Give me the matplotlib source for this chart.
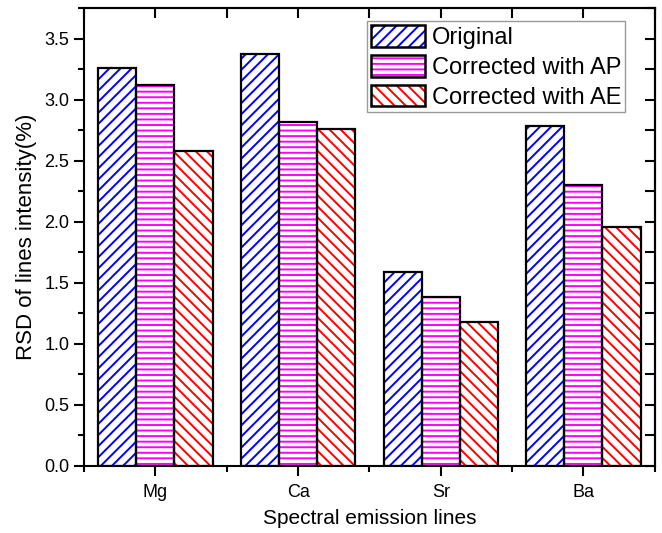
import matplotlib
matplotlib.use("Agg")
import matplotlib.pyplot as plt
import numpy as np
from matplotlib.ticker import MultipleLocator, FixedLocator, FormatStrFormatter
from matplotlib.patches import Patch, Rectangle
from matplotlib.legend_handler import HandlerPatch

plt.rcParams['font.family'] = ['Liberation Sans', 'DejaVu Sans']
plt.rcParams['hatch.linewidth'] = 1.4

categories = ["Mg", "Ca", "Sr", "Ba"]
series_names = ["Original", "Corrected with AP", "Corrected with AE"]
original = [3.26, 3.37, 1.59, 2.78]
corrected_ap = [3.12, 2.82, 1.38, 2.30]
corrected_ae = [2.58, 2.76, 1.18, 1.96]

colors = ["#0000FF", "#FF00FF", "#FF0000"]
hatches = ["///", "---", "\\\\\\"]

fig = plt.figure(figsize=(6.62, 5.33), dpi=100)
ax = fig.add_axes([0.127, 0.126, 0.862, 0.859])

x = np.arange(1, len(categories) + 1)
w = 0.267
for i, (vals, name) in enumerate(zip([original, corrected_ap, corrected_ae], series_names)):
    ax.bar(x + (i - 1) * w, vals, width=w, facecolor="white", edgecolor=colors[i],
           hatch=hatches[i], linewidth=0, label=name, zorder=2)
    ax.bar(x + (i - 1) * w, vals, width=w, facecolor="none", edgecolor="black",
           linewidth=1.6, zorder=3)

ax.set_xlim(0.5, 4.5)
ax.set_ylim(0, 3.75)
ax.set_xticks(x)
ax.set_xticklabels(categories)
ax.xaxis.set_minor_locator(FixedLocator([0.5, 1.5, 2.5, 3.5, 4.5]))
ax.yaxis.set_major_locator(MultipleLocator(0.5))
ax.yaxis.set_minor_locator(MultipleLocator(0.25))
ax.yaxis.set_major_formatter(FormatStrFormatter('%.1f'))
ax.tick_params(which='major', direction='out', length=7, width=1.5, labelsize=13)
ax.tick_params(which='minor', direction='out', length=4, width=1.5)
ax.tick_params(axis='x', which='major', pad=6)

for s in ax.spines.values():
    s.set_linewidth(1.5)

# top and right inward ticks
secx = ax.secondary_xaxis('top')
secx.set_xticks(x)
secx.xaxis.set_minor_locator(FixedLocator([0.5, 1.5, 2.5, 3.5, 4.5]))
secx.tick_params(which='both', direction='in', length=7, width=1.5, labeltop=False)
secx.spines['top'].set_linewidth(1.5)
secy = ax.secondary_yaxis('right')
secy.yaxis.set_major_locator(MultipleLocator(0.5))
secy.yaxis.set_minor_locator(MultipleLocator(0.25))
secy.tick_params(which='both', direction='in', length=7, width=1.5, labelright=False)
secy.spines['right'].set_linewidth(1.5)

ax.set_xlabel("Spectral emission lines", fontsize=15, labelpad=6)
ax.set_ylabel("RSD of lines intensity(%)", fontsize=16, labelpad=5)

handles = [Patch(facecolor="white", edgecolor=colors[i], hatch=hatches[i], linewidth=0)
           for i in range(3)]


class BorderHandler(HandlerPatch):
    def create_artists(self, legend, orig_handle, xdescent, ydescent, width, height, fontsize, trans):
        r1 = Rectangle((-xdescent, -ydescent), width, height, facecolor="white",
                       edgecolor=orig_handle.get_edgecolor(), hatch=orig_handle.get_hatch(),
                       linewidth=0, transform=trans)
        r2 = Rectangle((-xdescent, -ydescent), width, height, facecolor="none",
                       edgecolor="black", linewidth=1.8, transform=trans)
        return [r1, r2]


leg = ax.legend(handles, series_names, loc='upper right', bbox_to_anchor=(0.969, 0.997),
                fontsize=17, frameon=True, fancybox=False, framealpha=1,
                edgecolor="#999999", handlelength=2.3, handleheight=1.05,
                handletextpad=0.3, labelspacing=0.25, borderpad=0.15,
                handler_map={Patch: BorderHandler()})
leg.get_frame().set_linewidth(1.0)

fig.savefig("out.png", dpi=100)
